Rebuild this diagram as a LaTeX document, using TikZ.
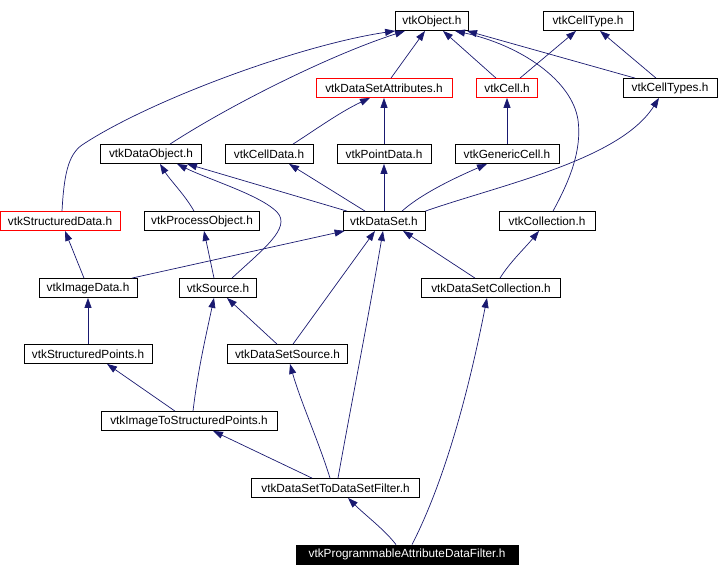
\documentclass[tikz,border=0pt]{standalone}
\usepackage{fontspec}
\setmainfont{Liberation Sans}
\usetikzlibrary{arrows.meta}
\definecolor{edgec}{HTML}{191970}
\begin{document}
\begin{tikzpicture}[x=1pt,y=-1pt,
  box/.style={draw=black, line width=0.8pt, minimum height=19pt, inner sep=0pt, fill=white, font=\fontsize{11.8}{14}\selectfont},
  redbox/.style={box, draw=red},
  blackbox/.style={box, fill=black, text=white},
  dep/.style={draw=edgec, line width=0.7pt, -{Triangle[length=10pt,width=7pt]}}]
\useasboundingbox (0,0) rectangle (718,576);
% nodes
\node[box, minimum width=73pt] (obj) at (432,21) {vtkObject.h};
\node[box, minimum width=90pt] (ctype) at (588,21) {vtkCellType.h};
\node[redbox, minimum width=136pt] (dsa) at (384,88) {vtkDataSetAttributes.h};
\node[redbox, minimum width=61pt] (cell) at (507,88) {vtkCell.h};
\node[box, minimum width=94pt] (ctypes) at (670,88) {vtkCellTypes.h};
\node[box, minimum width=101pt] (dobj) at (151,154) {vtkDataObject.h};
\node[box, minimum width=88pt] (cdata) at (269,154) {vtkCellData.h};
\node[box, minimum width=94pt] (pdata) at (384,154) {vtkPointData.h};
\node[box, minimum width=104pt] (gcell) at (507,154) {vtkGenericCell.h};
\node[redbox, minimum width=120pt] (sdata) at (60,221) {vtkStructuredData.h};
\node[box, minimum width=115pt] (pobj) at (202,221) {vtkProcessObject.h};
\node[box, minimum width=82pt] (ds) at (384,221) {vtkDataSet.h};
\node[box, minimum width=96pt] (coll) at (547,221) {vtkCollection.h};
\node[box, minimum width=98pt] (idata) at (88,288) {vtkImageData.h};
\node[box, minimum width=77pt] (src) at (218,288) {vtkSource.h};
\node[box, minimum width=139pt] (dscoll) at (491,288) {vtkDataSetCollection.h};
\node[box, minimum width=128pt] (spts) at (88,354) {vtkStructuredPoints.h};
\node[box, minimum width=120pt] (dssrc) at (287.5,354) {vtkDataSetSource.h};
\node[box, minimum width=176pt] (itsp) at (189,421) {vtkImageToStructuredPoints.h};
\node[box, minimum width=168pt] (dsf) at (335.5,488) {vtkDataSetToDataSetFilter.h};
\node[blackbox, minimum width=222pt] (pad) at (407,554.5) {vtkProgrammableAttributeDataFilter.h};
% edges to vtkObject
\draw[dep] ([xshift=2pt]sdata.north) .. controls (64,175) and (68,155) .. (82,145) .. controls (150,100) and (300,45) .. (obj.south west);
\draw[dep] ([xshift=19pt]dobj.north) .. controls (230,105) and (330,55) .. ([xshift=-27pt]obj.south);
\draw[dep] ([xshift=7pt]dsa.north) -- ([xshift=-7pt]obj.south);
\draw[dep] ([xshift=-11pt]cell.north) -- ([xshift=11pt]obj.south);
\draw[dep] ([xshift=6pt]coll.north) .. controls (570,180) and (582,150) .. (578,120) .. controls (572,80) and (520,45) .. ([xshift=23pt]obj.south);
\draw[dep] ([xshift=-35pt]ctypes.north) -- ([xshift=35pt]obj.south);
% edges to vtkCellType
\draw[dep] ([xshift=13pt]cell.north) -- ([xshift=-12pt]ctype.south);
\draw[dep] ([xshift=-14pt]ctypes.north) -- ([xshift=12pt]ctype.south);
% row 3 to row 2
\draw[dep] ([xshift=24pt]cdata.north) .. controls (315,130) and (340,112) .. ([xshift=-14pt]dsa.south);
\draw[dep] (pdata.north) -- (dsa.south);
\draw[dep] (gcell.north) -- (cell.south);
% vtkDataSet up
\draw[dep] ([xshift=-37pt]ds.north) -- ([xshift=36pt]dobj.south);
\draw[dep] ([xshift=-19pt]ds.north) -- ([xshift=20pt]cdata.south);
\draw[dep] (ds.north) -- (pdata.south);
\draw[dep] ([xshift=18pt]ds.north) .. controls (420,195) and (450,180) .. ([xshift=-20pt]gcell.south);
\draw[dep] (ds.north east) .. controls (500,185) and (620,160) .. ([xshift=-11pt]ctypes.south);
% to vtkDataObject
\draw[dep] ([xshift=-8pt]pobj.north) .. controls (185,195) and (170,180) .. ([xshift=9pt]dobj.south);
\draw[dep] ([xshift=14pt]src.north) .. controls (262,250) and (292,228) .. (277,212) .. controls (260,195) and (210,180) .. ([xshift=26pt]dobj.south);
% row 5
\draw[dep] ([xshift=-4pt]idata.north) -- ([xshift=5pt]sdata.south);
\draw[dep] ([xshift=44pt]idata.north) -- ([xshift=2pt]ds.south west);
\draw[dep] ([xshift=-4pt]src.north) -- ([xshift=2pt]pobj.south);
\draw[dep] ([xshift=-16pt]dscoll.north) -- ([xshift=19pt]ds.south);
\draw[dep] ([xshift=9pt]dscoll.north) .. controls (510,262) and (525,248) .. ([xshift=-8pt]coll.south);
% row 6
\draw[dep] (spts.north) -- (idata.south);
\draw[dep] ([xshift=-10.5pt]dssrc.north) -- ([xshift=9pt]src.south);
\draw[dep] ([xshift=5.5pt]dssrc.north) -- ([xshift=-9pt]ds.south);
% row 7
\draw[dep] ([xshift=-14pt]itsp.north) -- ([xshift=19pt]spts.south);
\draw[dep] ([xshift=4pt]itsp.north) .. controls (198,370) and (205,340) .. ([xshift=-4pt]src.south);
% row 8
\draw[dep] ([xshift=-23.5pt]dsf.north) -- ([xshift=24pt]itsp.south);
\draw[dep] ([xshift=-5.5pt]dsf.north) .. controls (320,445) and (300,400) .. ([xshift=2.5pt]dssrc.south);
\draw[dep] ([xshift=2.5pt]dsf.north) .. controls (352,400) and (368,320) .. ([xshift=-1pt]ds.south);
% bottom
\draw[dep] ([xshift=-11pt]pad.north) .. controls (385,530) and (365,515) .. ([xshift=12.5pt]dsf.south);
\draw[dep] ([xshift=5pt]pad.north) .. controls (440,490) and (465,410) .. ([xshift=-4pt]dscoll.south);
\end{tikzpicture}
\end{document}
